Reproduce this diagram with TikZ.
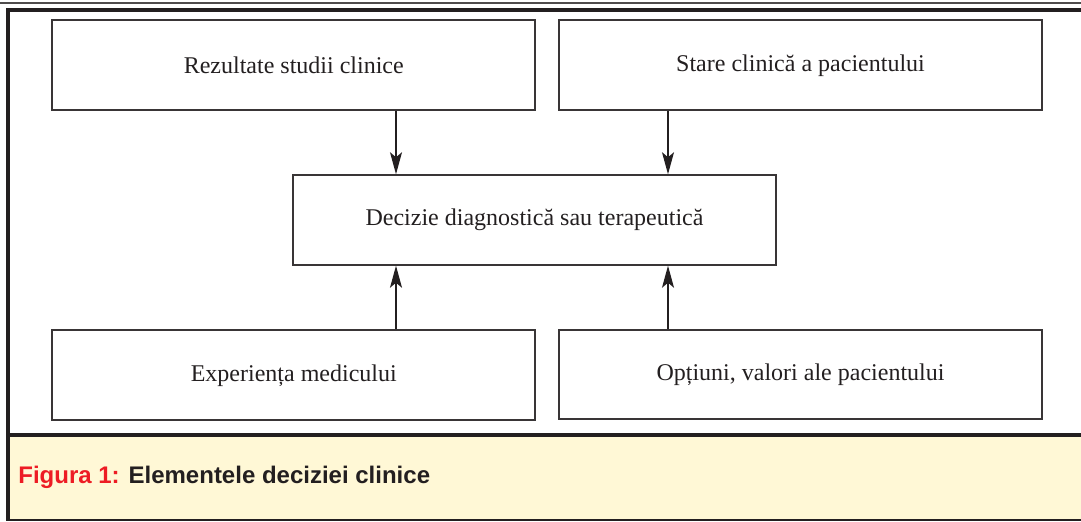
\documentclass[tikz,border=0pt]{standalone}
\usepackage{fontspec}
\setmainfont{Liberation Serif}
\newfontfamily\capfont{Liberation Sans}
\usetikzlibrary{arrows.meta}

\definecolor{inkgray}{HTML}{231F20}
\definecolor{capred}{HTML}{ED1C24}
\definecolor{capyellow}{HTML}{FFF8D6}

\begin{document}
\begin{tikzpicture}[x=0.5pt, y=-0.5pt,
  factor/.style={draw=inkgray!90, line width=1pt, minimum width=241.5pt,
    minimum height=44.75pt, text=inkgray, font=\fontsize{12}{14}\selectfont},
  flow/.style={-{Stealth[length=11pt, width=6pt, inset=2.5pt]}, line width=0.6pt, inkgray}]

\useasboundingbox (0, 0) rectangle (1081, 522);

% frame of the figure
\draw[line width=0.7pt, inkgray!80] (0, 3) -- (1081, 3);
\fill[capyellow] (8, 435) rectangle (1081, 520);
\draw[line width=1.6pt, inkgray] (1081, 10) -- (8, 10) -- (8, 521);
\draw[line width=1.6pt, inkgray] (8, 435) -- (1081, 435);
\draw[line width=1.2pt, inkgray] (8, 520) -- (1081, 520);

% the five boxes
\node[factor] (studii) at (293.75, 65.25) {Rezultate studii clinice};
\node[factor] (stare) at (800.5, 65.25) {Stare clinică a pacientului};
\node[factor] (decizie) at (534.5, 220) {Decizie diagnostică sau terapeutică};
\node[factor] (experienta) at (293.75, 375.25) {Experiența medicului};
\node[factor] (optiuni) at (800.5, 374.75) {Opțiuni, valori ale pacientului};

% arrows into the decision
\coordinate (left) at (396, 0);
\coordinate (right) at (668, 0);
\draw[flow] (studii.south -| left) -- (decizie.north -| left);
\draw[flow] (stare.south -| right) -- (decizie.north -| right);
\draw[flow] (experienta.north -| left) -- (decizie.south -| left);
\draw[flow] (optiuni.north -| right) -- (decizie.south -| right);

% caption
\node[anchor=west, font=\capfont\bfseries\fontsize{12}{14}\selectfont, inner sep=0pt]
  (caption) at (18, 477) {\textcolor{capred}{Figura 1:} \textcolor{inkgray}{Elementele deciziei clinice}};

\end{tikzpicture}
\end{document}
